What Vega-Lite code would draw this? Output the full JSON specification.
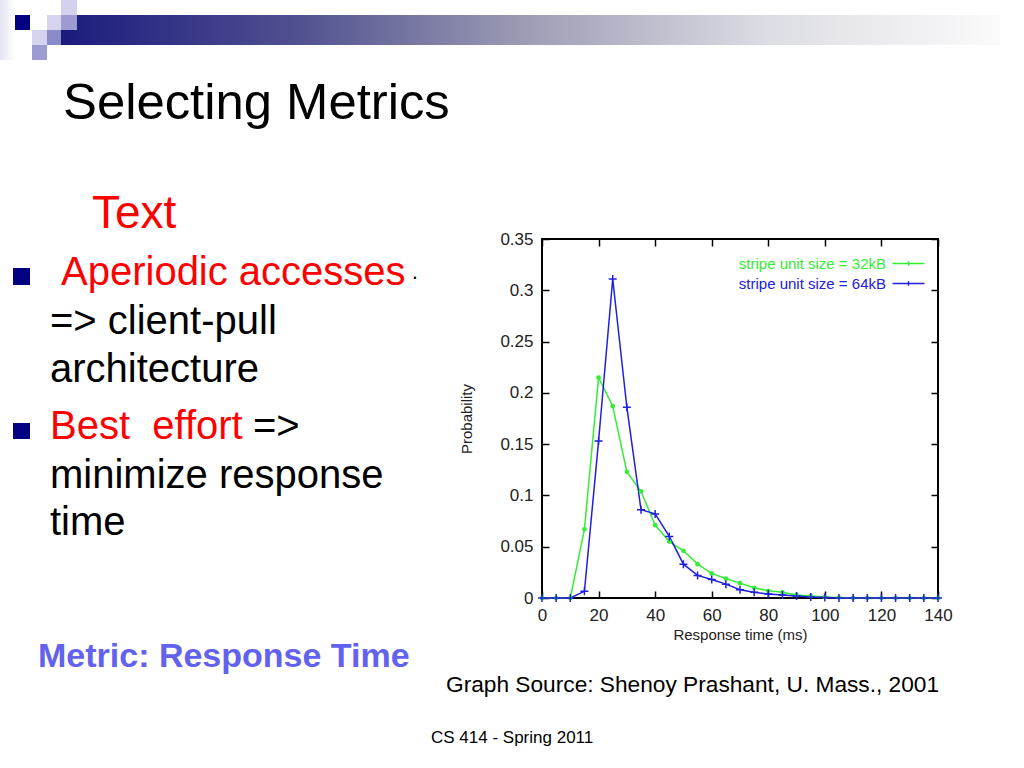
{
  "$schema": "https://vega.github.io/schema/vega-lite/v6.json",
  "width": 396,
  "height": 359,
  "autosize": {"type": "none"},
  "padding": {"left": 542, "top": 239, "right": 86, "bottom": 170},
  "background": "white",
  "config": {
    "font": "Liberation Sans",
    "view": {"stroke": "black", "strokeWidth": 2},
    "axis": {
      "domain": false,
      "grid": false,
      "labelFlush": false,
      "tickColor": "black",
      "tickWidth": 1.5,
      "tickSize": -7,
      "labelFont": "Liberation Sans",
      "labelFontSize": 17,
      "labelColor": "#222222",
      "titleFont": "Liberation Sans",
      "titleFontWeight": "normal",
      "titleColor": "#222222",
      "titleFontSize": 15
    }
  },
  "datasets": {
    "pdf": [
      {"t": 0, "p": 0, "series": "stripe unit size = 32kB"},
      {"t": 5, "p": 0, "series": "stripe unit size = 32kB"},
      {"t": 10, "p": 0, "series": "stripe unit size = 32kB"},
      {"t": 15, "p": 0.067, "series": "stripe unit size = 32kB"},
      {"t": 20, "p": 0.215, "series": "stripe unit size = 32kB"},
      {"t": 25, "p": 0.187, "series": "stripe unit size = 32kB"},
      {"t": 30, "p": 0.123, "series": "stripe unit size = 32kB"},
      {"t": 35, "p": 0.104, "series": "stripe unit size = 32kB"},
      {"t": 40, "p": 0.071, "series": "stripe unit size = 32kB"},
      {"t": 45, "p": 0.055, "series": "stripe unit size = 32kB"},
      {"t": 50, "p": 0.046, "series": "stripe unit size = 32kB"},
      {"t": 55, "p": 0.033, "series": "stripe unit size = 32kB"},
      {"t": 60, "p": 0.024, "series": "stripe unit size = 32kB"},
      {"t": 65, "p": 0.019, "series": "stripe unit size = 32kB"},
      {"t": 70, "p": 0.0145, "series": "stripe unit size = 32kB"},
      {"t": 75, "p": 0.01, "series": "stripe unit size = 32kB"},
      {"t": 80, "p": 0.007, "series": "stripe unit size = 32kB"},
      {"t": 85, "p": 0.0055, "series": "stripe unit size = 32kB"},
      {"t": 90, "p": 0.003, "series": "stripe unit size = 32kB"},
      {"t": 95, "p": 0.002, "series": "stripe unit size = 32kB"},
      {"t": 100, "p": 0.001, "series": "stripe unit size = 32kB"},
      {"t": 105, "p": 0.0005, "series": "stripe unit size = 32kB"},
      {"t": 110, "p": 0, "series": "stripe unit size = 32kB"},
      {"t": 115, "p": 0, "series": "stripe unit size = 32kB"},
      {"t": 120, "p": 0, "series": "stripe unit size = 32kB"},
      {"t": 125, "p": 0, "series": "stripe unit size = 32kB"},
      {"t": 130, "p": 0, "series": "stripe unit size = 32kB"},
      {"t": 135, "p": 0, "series": "stripe unit size = 32kB"},
      {"t": 140, "p": 0, "series": "stripe unit size = 32kB"},
      {"t": 0, "p": 0, "series": "stripe unit size = 64kB"},
      {"t": 5, "p": 0, "series": "stripe unit size = 64kB"},
      {"t": 10, "p": 0, "series": "stripe unit size = 64kB"},
      {"t": 15, "p": 0.0065, "series": "stripe unit size = 64kB"},
      {"t": 20, "p": 0.153, "series": "stripe unit size = 64kB"},
      {"t": 25, "p": 0.311, "series": "stripe unit size = 64kB"},
      {"t": 30, "p": 0.186, "series": "stripe unit size = 64kB"},
      {"t": 35, "p": 0.086, "series": "stripe unit size = 64kB"},
      {"t": 40, "p": 0.082, "series": "stripe unit size = 64kB"},
      {"t": 45, "p": 0.06, "series": "stripe unit size = 64kB"},
      {"t": 50, "p": 0.033, "series": "stripe unit size = 64kB"},
      {"t": 55, "p": 0.022, "series": "stripe unit size = 64kB"},
      {"t": 60, "p": 0.018, "series": "stripe unit size = 64kB"},
      {"t": 65, "p": 0.0135, "series": "stripe unit size = 64kB"},
      {"t": 70, "p": 0.008, "series": "stripe unit size = 64kB"},
      {"t": 75, "p": 0.0055, "series": "stripe unit size = 64kB"},
      {"t": 80, "p": 0.004, "series": "stripe unit size = 64kB"},
      {"t": 85, "p": 0.003, "series": "stripe unit size = 64kB"},
      {"t": 90, "p": 0.002, "series": "stripe unit size = 64kB"},
      {"t": 95, "p": 0.001, "series": "stripe unit size = 64kB"},
      {"t": 100, "p": 0.0005, "series": "stripe unit size = 64kB"},
      {"t": 105, "p": 0, "series": "stripe unit size = 64kB"},
      {"t": 110, "p": 0, "series": "stripe unit size = 64kB"},
      {"t": 115, "p": 0, "series": "stripe unit size = 64kB"},
      {"t": 120, "p": 0, "series": "stripe unit size = 64kB"},
      {"t": 125, "p": 0, "series": "stripe unit size = 64kB"},
      {"t": 130, "p": 0, "series": "stripe unit size = 64kB"},
      {"t": 135, "p": 0, "series": "stripe unit size = 64kB"},
      {"t": 140, "p": 0, "series": "stripe unit size = 64kB"}
    ]
  },
  "layer": [
    {"data": {"values": [{}]}, "mark": {"type": "rect", "x": -542, "x2": -527, "y": -239, "y2": -179, "color": {"gradient": "linear", "x1": 0, "y1": 0, "x2": 1, "y2": 0, "stops": [{"offset": 0, "color": "#e4e4f2"}, {"offset": 1, "color": "#ffffff"}]}}},
    {"data": {"values": [{}]}, "mark": {"type": "rect", "x": -481, "x2": 458, "y": -224, "y2": -194, "color": {"gradient": "linear", "x1": 0, "y1": 0, "x2": 1, "y2": 0, "stops": [{"offset": 0, "color": "#1b1b7e"}, {"offset": 0.25, "color": "#505090"}, {"offset": 0.5, "color": "#9e9eb6"}, {"offset": 0.75, "color": "#dcdce4"}, {"offset": 1, "color": "#fbfbfb"}]}}},
    {"data": {"values": [{}]}, "mark": {"type": "rect", "x": -481, "x2": -465, "y": -239, "y2": -224, "color": "#d2d2ec"}},
    {"data": {"values": [{}]}, "mark": {"type": "rect", "x": -527, "x2": -512, "y": -224, "y2": -209, "color": "#000080"}},
    {"data": {"values": [{}]}, "mark": {"type": "rect", "x": -495, "x2": -481, "y": -224, "y2": -209, "color": "#d4d4ee"}},
    {"data": {"values": [{}]}, "mark": {"type": "rect", "x": -481, "x2": -465, "y": -224, "y2": -209, "color": "#9c9cd2"}},
    {"data": {"values": [{}]}, "mark": {"type": "rect", "x": -510, "x2": -495, "y": -209, "y2": -194, "color": "#d4d4ee"}},
    {"data": {"values": [{}]}, "mark": {"type": "rect", "x": -495, "x2": -481, "y": -209, "y2": -194, "color": "#8a8ac8"}},
    {"data": {"values": [{}]}, "mark": {"type": "rect", "x": -510, "x2": -495, "y": -194, "y2": -179, "color": "#9c9cd2"}},
    {"data": {"values": [{}]}, "mark": {"type": "rect", "x": -529, "x2": -512, "y": 29, "y2": 46, "color": "#000080"}},
    {"data": {"values": [{}]}, "mark": {"type": "rect", "x": -529, "x2": -512, "y": 184, "y2": 200, "color": "#000080"}},
    {"data": {"values": [{}]}, "mark": {"type": "text", "text": "Selecting Metrics", "x": -479, "y": -120, "align": "left", "baseline": "alphabetic", "fontSize": 50.8, "font": "Liberation Sans", "color": "#000000"}},
    {"data": {"values": [{}]}, "mark": {"type": "text", "text": "Text", "x": -450, "y": -11, "align": "left", "baseline": "alphabetic", "fontSize": 46, "font": "Liberation Sans", "color": "#ff0000"}},
    {"data": {"values": [{}]}, "mark": {"type": "text", "text": "Aperiodic accesses", "x": -481, "y": 46, "align": "left", "baseline": "alphabetic", "fontSize": 40, "font": "Liberation Sans", "color": "#ff0000"}},
    {"data": {"values": [{}]}, "mark": {"type": "text", "text": "·", "x": -127, "y": 38, "align": "center", "baseline": "middle", "fontSize": 22, "font": "Liberation Sans", "color": "#000000"}},
    {"data": {"values": [{}]}, "mark": {"type": "text", "text": "=> client-pull", "x": -492, "y": 95, "align": "left", "baseline": "alphabetic", "fontSize": 40, "font": "Liberation Sans", "color": "#000000"}},
    {"data": {"values": [{}]}, "mark": {"type": "text", "text": "architecture", "x": -492, "y": 143, "align": "left", "baseline": "alphabetic", "fontSize": 40, "font": "Liberation Sans", "color": "#000000"}},
    {"data": {"values": [{}]}, "mark": {"type": "text", "text": "Best\u00a0 effort", "x": -492, "y": 200, "align": "left", "baseline": "alphabetic", "fontSize": 40, "font": "Liberation Sans", "color": "#ff0000"}},
    {"data": {"values": [{}]}, "mark": {"type": "text", "text": "=>", "x": -289, "y": 200, "align": "left", "baseline": "alphabetic", "fontSize": 40, "font": "Liberation Sans", "color": "#000000"}},
    {"data": {"values": [{}]}, "mark": {"type": "text", "text": "minimize response", "x": -492, "y": 249, "align": "left", "baseline": "alphabetic", "fontSize": 40, "font": "Liberation Sans", "color": "#000000"}},
    {"data": {"values": [{}]}, "mark": {"type": "text", "text": "time", "x": -492, "y": 296, "align": "left", "baseline": "alphabetic", "fontSize": 40, "font": "Liberation Sans", "color": "#000000"}},
    {"data": {"values": [{}]}, "mark": {"type": "text", "text": "Metric: Response Time", "x": -504, "y": 428, "align": "left", "baseline": "alphabetic", "fontSize": 34, "fontWeight": "bold", "font": "Liberation Sans", "color": "#6262ee"}},
    {"data": {"values": [{}]}, "mark": {"type": "text", "text": "Graph Source: Shenoy Prashant, U. Mass., 2001", "x": -96, "y": 453, "align": "left", "baseline": "alphabetic", "fontSize": 22.7, "font": "Liberation Sans", "color": "#000000"}},
    {"data": {"values": [{}]}, "mark": {"type": "text", "text": "CS 414 - Spring 2011", "x": -111, "y": 504, "align": "left", "baseline": "alphabetic", "fontSize": 17, "font": "Liberation Sans", "color": "#000000"}},
    {
      "data": {"name": "pdf"},
      "mark": {"type": "line", "strokeWidth": 1.5},
      "encoding": {
        "x": {"field": "t", "type": "quantitative", "scale": {"domain": [0, 140], "nice": false, "zero": false},
              "axis": {"values": [0, 20, 40, 60, 80, 100, 120, 140], "title": "Response time (ms)", "labelPadding": 16, "titlePadding": 4}},
        "y": {"field": "p", "type": "quantitative", "scale": {"domain": [0, 0.35], "nice": false},
              "axis": {"values": [0, 0.05, 0.1, 0.15, 0.2, 0.25, 0.3, 0.35], "format": "~g", "title": "Probability", "labelPadding": 16, "titlePadding": 25}},
        "color": {"field": "series", "type": "nominal",
                  "scale": {"domain": ["stripe unit size = 32kB", "stripe unit size = 64kB"], "range": ["#33ee33", "#2020dd"]},
                  "legend": {"orient": "none", "legendX": 359, "legendY": 17, "title": null, "padding": 0,
                             "symbolType": "M-3.2,0H3.2M0,-0.45V0.45", "symbolSize": 100, "symbolStrokeWidth": 1.5,
                             "labelAlign": "right", "labelOffset": -30, "labelFontSize": 15, "labelFont": "Liberation Sans", "labelLimit": 0,
                             "labelColor": {"expr": "datum.label == 'stripe unit size = 32kB' ? '#33ee33' : '#2020dd'"},
                             "rowPadding": 4}}
      }
    },
    {
      "data": {"name": "pdf"},
      "transform": [{"filter": "datum.series == 'stripe unit size = 32kB'"}],
      "mark": {"type": "point", "filled": true, "shape": "circle", "size": 22, "color": "#33ee33", "opacity": 1},
      "encoding": {
        "x": {"field": "t", "type": "quantitative", "axis": {"orient": "top", "values": [0, 20, 40, 60, 80, 100, 120, 140], "labels": false, "title": null}},
        "y": {"field": "p", "type": "quantitative", "axis": {"orient": "right", "values": [0, 0.05, 0.1, 0.15, 0.2, 0.25, 0.3, 0.35], "labels": false, "title": null}}
      }
    },
    {
      "data": {"name": "pdf"},
      "transform": [{"filter": "datum.series == 'stripe unit size = 64kB'"}],
      "mark": {"type": "point", "filled": false, "shape": "M-1,0H1M0,-1V1", "size": 64, "strokeWidth": 1.5, "color": "#2020dd", "opacity": 1},
      "encoding": {
        "x": {"field": "t", "type": "quantitative", "axis": null},
        "y": {"field": "p", "type": "quantitative", "axis": null}
      }
    }
  ],
  "resolve": {"axis": {"x": "independent", "y": "independent"}}
}
